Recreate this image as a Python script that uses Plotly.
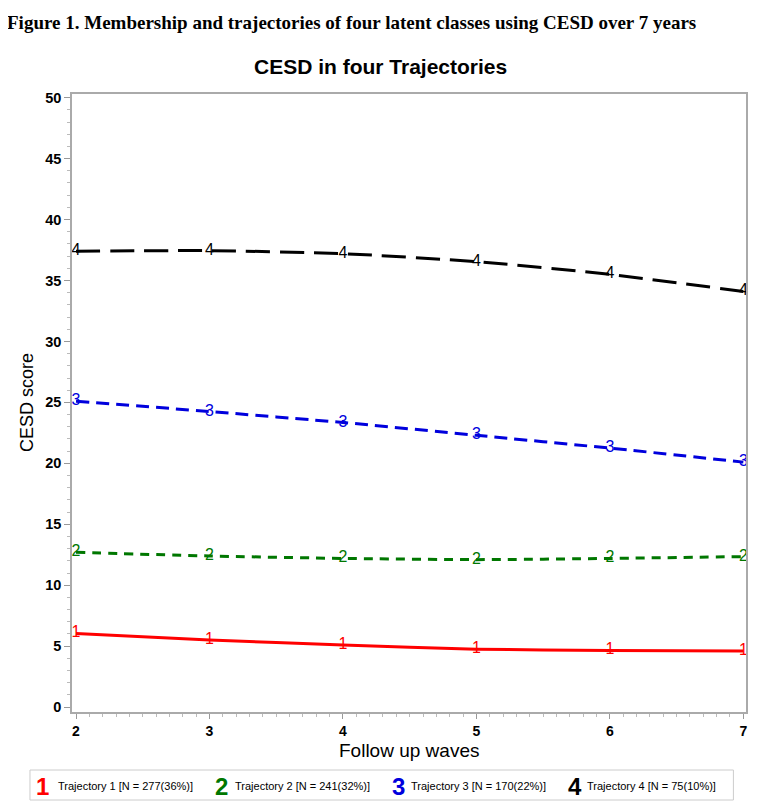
import plotly.graph_objects as go

waves = [2, 3, 4, 5, 6, 7]
traj1 = [6.05, 5.5, 5.1, 4.75, 4.65, 4.6]
traj2 = [12.7, 12.4, 12.2, 12.1, 12.2, 12.35]
traj3 = [25.1, 24.25, 23.35, 22.3, 21.25, 20.1]
traj4 = [37.4, 37.45, 37.2, 36.55, 35.5, 34.1]
y_ticks = [0, 5, 10, 15, 20, 25, 30, 35, 40, 45, 50]

series_names = ["Trajectory 1 [N = 277(36%)]", "Trajectory 2 [N = 241(32%)]",
                "Trajectory 3 [N = 170(22%)]", "Trajectory 4 [N = 75(10%)]"]
series_labels = ["1", "2", "3", "4"]
colors = ["#ff0000", "#007700", "#0000dd", "#000000"]
dashes = ["solid", "9px,7px", "13px,7px", "24px,10px"]
all_values = [traj1, traj2, traj3, traj4]

fig = go.Figure()
for vals, lab, col, dash, name in zip(all_values, series_labels, colors, dashes, series_names):
    fig.add_trace(go.Scatter(
        x=waves, y=vals, mode="lines+text", name=name,
        text=[lab] * len(waves), textposition="middle center",
        textfont=dict(family="Liberation Sans, Arial", size=16, color=col),
        line=dict(color=col, width=3, dash=dash, shape="spline", smoothing=0.6),
        cliponaxis=False, showlegend=False,
    ))

# page has an 8px body margin; figure is shifted accordingly
OFF = 8
W, H = 762 - OFF, 809 - OFF
PL, PT, PR, PB = 72, 94, 745.6, 712   # plot area in page pixels
L, T = PL - OFF, PT - OFF
R, B = W - (PR - OFF), H - (PB - OFF)
pw, ph = PR - PL, PB - PT

def px_x(p):
    return (p - PL) / pw

def px_y(p):
    return (PB - p) / ph

annotations = [
    dict(text="<b>Figure 1. Membership and trajectories of four latent classes using CESD over 7 years</b>",
         xref="paper", yref="paper", x=px_x(5), y=px_y(22), xanchor="left", yanchor="middle",
         showarrow=False, font=dict(family="Liberation Serif, Times New Roman", size=19, color="black")),
    dict(text="<b>CESD in four Trajectories</b>",
         xref="paper", yref="paper", x=px_x(380), y=px_y(66), xanchor="center", yanchor="middle",
         showarrow=False, font=dict(family="Liberation Sans, Arial", size=21, color="black")),
    dict(text="Follow up waves",
         xref="paper", yref="paper", x=px_x(409), y=px_y(750), xanchor="center", yanchor="middle",
         showarrow=False, font=dict(family="Liberation Sans, Arial", size=19, color="black")),
    dict(text="CESD score", textangle=-90,
         xref="paper", yref="paper", x=px_x(27), y=px_y(402), xanchor="center", yanchor="middle",
         showarrow=False, font=dict(family="Liberation Sans, Arial", size=18, color="black")),
]

leg_sym_x = [43, 221, 398, 575]
leg_txt_x = [56, 233, 409, 585]
for lab, name, col, sx, tx in zip(series_labels, series_names, colors, leg_sym_x, leg_txt_x):
    annotations.append(dict(text="<b>" + lab + "</b>", xref="paper", yref="paper", x=px_x(sx), y=px_y(786),
                            xanchor="center", yanchor="middle", showarrow=False,
                            font=dict(family="Liberation Sans, Arial", size=24, color=col)))
    annotations.append(dict(text=name, xref="paper", yref="paper", x=px_x(tx), y=px_y(786),
                            xanchor="left", yanchor="middle", showarrow=False,
                            font=dict(family="Liberation Sans, Arial", size=11, color="black")))

shapes = [dict(type="rect", xref="paper", yref="paper",
               x0=px_x(30), x1=px_x(733), y0=px_y(800), y1=px_y(770),
               line=dict(color="#cccccc", width=1), fillcolor="rgba(0,0,0,0)")]

fig.update_layout(
    width=W, height=H,
    margin=dict(l=L, r=R, t=T, b=B, autoexpand=False),
    paper_bgcolor="white", plot_bgcolor="white",
    showlegend=False,
    annotations=annotations, shapes=shapes,
    font=dict(family="Liberation Sans, Arial", color="black"),
)
fig.update_xaxes(
    range=[1.97, 7.02], tickvals=waves, ticktext=[str(w) for w in waves],
    ticks="outside", ticklen=5, tickcolor="#999999", tickwidth=1,
    minor=dict(dtick=0.1, ticks="outside", ticklen=3, tickcolor="#bbbbbb", showgrid=False),
    showline=True, linecolor="#aaaaaa", linewidth=1.5, mirror=True,
    showgrid=False, zeroline=False,
    tickfont=dict(family="Liberation Sans, Arial", size=14, color="black", weight="bold"),
)
fig.update_yaxes(
    range=[-0.4, 50.3], tickvals=y_ticks,
    ticks="outside", ticklen=6, tickcolor="#999999", tickwidth=1,
    minor=dict(dtick=1, ticks="outside", ticklen=3, tickcolor="#bbbbbb", showgrid=False),
    showline=True, linecolor="#aaaaaa", linewidth=1.5, mirror=True,
    showgrid=False, zeroline=False,
    tickfont=dict(family="Liberation Sans, Arial", size=14.5, color="black", weight="bold"),
)

fig.write_html("out.html")
